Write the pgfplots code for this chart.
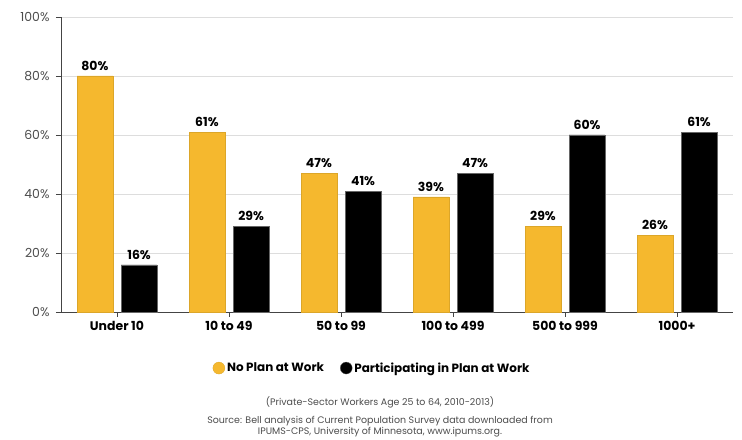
\documentclass[border=0pt]{standalone}
\usepackage{pgfplots}
\pgfplotsset{compat=1.18}
\usepackage{fontspec}
\setmainfont{Poppins}
\definecolor{gold}{HTML}{F5B82E}
\definecolor{gridc}{HTML}{DDDDDD}
\definecolor{axc}{HTML}{444444}
\begin{document}
\begin{tikzpicture}[x=1bp,y=1bp]
\useasboundingbox (-61,-128) rectangle (681,295+17);
\begin{axis}[
  at={(0,0)}, anchor=south west,
  scale only axis, width=672bp, height=295bp,
  xmin=-0.5, xmax=5.5, ymin=0, ymax=100,
  ybar, bar width=0.32, bar shift auto,
  xtick={0,1,2,3,4,5},
  xticklabels={Under 10,10 to 49,50 to 99,100 to 499,500 to 999,1000+},
  xticklabel style={font=\fontsize{12.5}{14}\selectfont\bfseries, yshift=-1bp},
  ytick={0,20,40,60,80,100},
  yticklabels={0\%,20\%,40\%,60\%,80\%,100\%},
  yticklabel style={font=\fontsize{12.5}{14}\selectfont, text=black!70, xshift=-3bp},
  ymajorgrids, grid style={gridc, line width=0.8pt},
  axis x line*=bottom, axis y line*=left,
  axis line style={axc, line width=0.9pt},
  x axis line style={-}, y axis line style={-},
  xtick style={axc, line width=0.8pt},
  major tick length=5bp,
  xtick pos=bottom, tick align=outside,
  ytick style={axc, line width=0.8pt},
  nodes near coords={\bfseries\pgfmathprintnumber[assume math mode=true]{\pgfplotspointmeta}\%},
  nodes near coords style={font=\fontsize{12.5}{14}\selectfont, text=black, yshift=2bp},
  legend style={at={(0.463,-0.19)}, anchor=center, draw=none, legend columns=2,
    font=\fontsize{12}{14}\selectfont\bfseries,
    /tikz/every even column/.append style={column sep=14bp}},
  legend image code/.code={\fill[#1] (0bp,0bp) circle (6bp);},
  /pgf/number format/assume math mode=true,
  clip=false,
]
\addplot[fill=gold, draw=gold!90!black, line width=0.3pt, bar shift=-0.197] coordinates {(0,80) (1,61) (2,47) (3,39) (4,29) (5,26)};
\addplot[fill=black, draw=black!60, line width=0.3pt, bar shift=0.197] coordinates {(0,16) (1,29) (2,41) (3,47) (4,60) (5,61)};
\legend{No Plan at Work, Participating in Plan at Work}
\end{axis}
\node[font=\fontsize{9.5}{11}\selectfont, text=black!70] at (319,-90) {(Private-Sector Workers Age 25 to 64, 2010-2013)};
\node[font=\fontsize{9.5}{11}\selectfont, text=black!70, align=center] at (319,-114.5) {Source: Bell analysis of Current Population Survey data downloaded from\\IPUMS-CPS, University of Minnesota, www.ipums.org.};
\end{tikzpicture}
\end{document}
